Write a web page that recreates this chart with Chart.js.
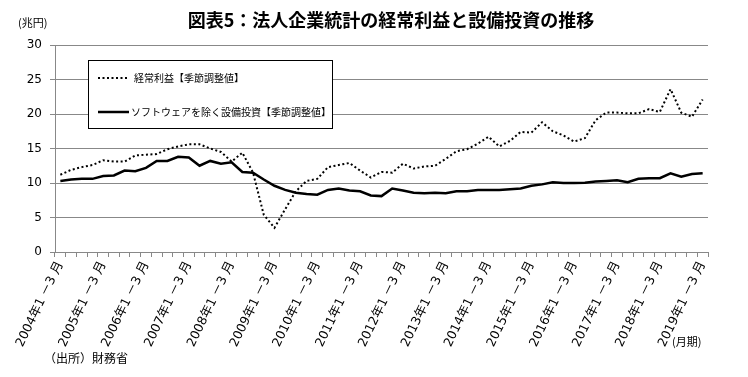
<!DOCTYPE html>
<html>
<head>
<meta charset="utf-8">
<script src="https://cdn.jsdelivr.net/npm/chart.js@4.4.1/dist/chart.umd.min.js"></script>
<style>
  html, body { margin: 0; padding: 0; background: #fff; }
  #wrap { position: relative; width: 748px; height: 377px; }
</style>
</head>
<body>
<div id="wrap"><canvas id="myChart"></canvas></div>
<script>
// 2004年1－3月 ～ 2019年1－3月 (四半期)
const quarters = [];
for (let y = 2004; y <= 2019; y++) {
  ['1 －3 月', '4 －6 月', '7 －9 月', '10 －12 月'].forEach(q => {
    if (y < 2019 || q === '1 －3 月') quarters.push(y + '年' + q);
  });
}

// 経常利益【季節調整値】(兆円)
const profit = [
  11.2, 11.9, 12.3, 12.6, 13.3, 13.1, 13.1, 14.0, 14.1, 14.2,
  14.9, 15.3, 15.6, 15.6, 15.0, 14.5, 13.1, 14.4, 11.5, 5.4,
  3.5, 6.2, 8.8, 10.3, 10.6, 12.3, 12.6, 12.9, 11.8, 10.8,
  11.6, 11.5, 12.8, 12.1, 12.4, 12.5, 13.5, 14.6, 14.9, 15.7,
  16.7, 15.3, 16.1, 17.4, 17.3, 18.8, 17.5, 16.9, 16.0, 16.5,
  19.1, 20.2, 20.2, 20.1, 20.1, 20.7, 20.3, 23.6, 20.2, 19.6,
  22.1
];

// ソフトウェアを除く設備投資【季節調整値】(兆円)
const capex = [
  10.3, 10.5, 10.6, 10.6, 11.0, 11.1, 11.8, 11.7, 12.2, 13.2,
  13.2, 13.8, 13.7, 12.5, 13.2, 12.8, 13.0, 11.6, 11.5, 10.5,
  9.6, 9.0, 8.6, 8.4, 8.3, 9.0, 9.2, 8.9, 8.8, 8.2,
  8.1, 9.2, 8.9, 8.6, 8.5, 8.6, 8.5, 8.8, 8.8, 9.0,
  9.0, 9.0, 9.1, 9.2, 9.6, 9.8, 10.1, 10.0, 10.0, 10.05,
  10.2, 10.3, 10.4, 10.1, 10.6, 10.7, 10.7, 11.4, 10.9, 11.3,
  11.4
];

const seriesNames = ['経常利益【季節調整値】', 'ソフトウェアを除く設備投資【季節調整値】'];
const yTicks = [0, 5, 10, 15, 20, 25, 30];

const jp = "'Noto Sans CJK JP', sans-serif";
const num = "'DejaVu Sans', 'Noto Sans CJK JP', sans-serif";

// title, notes and the boxed legend
const extras = {
  id: 'extras',
  afterDraw(chart) {
    const ctx = chart.ctx;
    ctx.save();
    ctx.fillStyle = '#000';
    ctx.textBaseline = 'middle';

    ctx.font = "bold 18px " + jp;
    ctx.textAlign = 'center';
    ctx.fillText('図表5：法人企業統計の経常利益と設備投資の推移', 391, 20);

    ctx.font = "11px " + jp;
    ctx.textAlign = 'left';
    ctx.fillText('(兆円)', 18, 23);
    ctx.fillText('(月期)', 672, 342);
    ctx.font = "12px " + jp;
    ctx.fillText('（出所）財務省', 44, 358);

    // legend box
    ctx.fillStyle = '#fff';
    ctx.fillRect(88, 60, 245, 69);
    ctx.strokeStyle = '#000';
    ctx.lineWidth = 1;
    ctx.strokeRect(88.5, 60.5, 244, 68);

    const ds = chart.data.datasets;
    const rows = [78, 112];
    ds.forEach((d, i) => {
      ctx.beginPath();
      ctx.strokeStyle = d.borderColor;
      ctx.lineWidth = d.borderWidth;
      ctx.setLineDash(d.borderDash || []);
      ctx.moveTo(98, rows[i]);
      ctx.lineTo(129, rows[i]);
      ctx.stroke();
      ctx.setLineDash([]);
      ctx.fillStyle = '#000';
      ctx.font = "10px " + jp;
      ctx.fillText(d.label, i === 0 ? 134 : 131, rows[i]);
    });
    ctx.restore();
  }
};

const ctx = document.getElementById('myChart');

new Chart(ctx, {
  type: 'line',
  data: {
    labels: quarters,
    datasets: [{
      label: seriesNames[0],
      data: profit,
      borderColor: '#000',
      borderWidth: 2,
      borderDash: [2, 2.5],
      pointRadius: 0,
      tension: 0,
      fill: false
    }, {
      label: seriesNames[1],
      data: capex,
      borderColor: '#000',
      borderWidth: 2.5,
      pointRadius: 0,
      tension: 0,
      fill: false
    }]
  },
  options: {
    responsive: true,
    maintainAspectRatio: false,
    animation: false,
    layout: { padding: { top: 45, right: 40, left: 0, bottom: 0 } },
    plugins: {
      legend: { display: false },
      tooltip: { enabled: false },
      title: { display: false }
    },
    scales: {
      x: {
        type: 'category',
        offset: true,
        grid: { offset: true, drawOnChartArea: false, color: '#888', tickLength: 5 },
        border: { color: '#888' },
        ticks: {
          autoSkip: false,
          maxRotation: 64,
          minRotation: 64,
          padding: 2,
          color: '#000',
          font: { family: num, size: 12.5 },
          callback: (v, i) => (i % 4 === 0 ? quarters[i] : '')
        },
        afterFit: s => { s.height = 125; }
      },
      y: {
        min: 0,
        max: 30,
        afterBuildTicks: s => { s.ticks = yTicks.map(v => ({ value: v })); },
        grid: { color: '#888', tickLength: 5 },
        border: { color: '#888' },
        ticks: {
          padding: 8,
          color: '#000',
          font: { family: num, size: 12 }
        },
        afterFit: s => { s.width = 55; }
      }
    }
  },
  plugins: [extras]
});
</script>
</body>
</html>
